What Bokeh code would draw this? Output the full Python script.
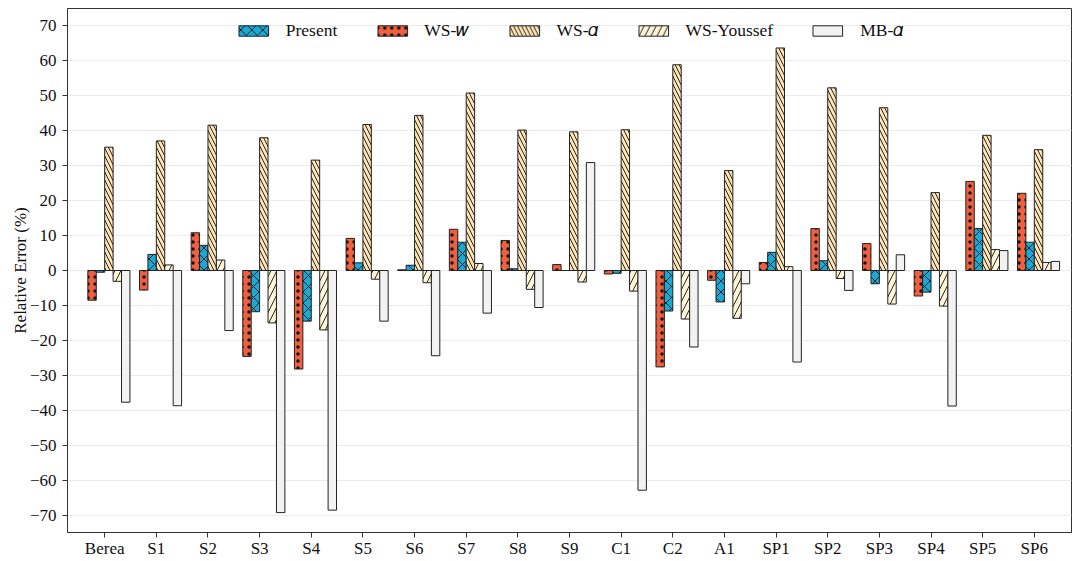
import numpy as np
from bokeh.plotting import figure
from bokeh.models import (ColumnDataSource, FactorRange, FixedTicker, Legend, LegendItem)
from bokeh.transform import dodge
from bokeh.embed import file_html
from bokeh.resources import INLINE

categories = ["Berea", "S1", "S2", "S3", "S4", "S5", "S6", "S7", "S8", "S9",
              "C1", "C2", "A1", "SP1", "SP2", "SP3", "SP4", "SP5", "SP6"]
ws_w      = [-8.5, -5.6, 10.8, -24.6, -28.2, 9.2, 0.2, 11.8, 8.6, 1.7,
             -1.0, -27.6, -2.8, 2.3, 12.0, 7.7, -7.3, 25.5, 22.1]
present   = [-0.5, 4.6, 7.2, -11.8, -14.5, 2.2, 1.5, 8.1, 0.5, 0.0,
             -0.8, -11.6, -9.0, 5.2, 2.8, -3.8, -6.2, 12.0, 8.1]
ws_alpha  = [35.3, 37.1, 41.6, 38.0, 31.6, 41.8, 44.4, 50.8, 40.2, 39.7,
             40.3, 58.9, 28.6, 63.7, 52.3, 46.6, 22.3, 38.7, 34.6]
ws_youssef = [-3.1, 1.6, 3.0, -15.0, -17.0, -2.5, -3.5, 2.0, -5.4, -3.3,
              -5.9, -13.9, -13.7, 1.1, -2.3, -9.6, -10.2, 6.0, 2.3]
mb_alpha  = [-37.7, -38.7, -17.2, -69.3, -68.6, -14.5, -24.4, -12.2, -10.6, 30.9,
             -62.9, -21.9, -3.8, -26.2, -5.7, 4.5, -38.8, 5.7, 2.6]
series_labels = ["Present", "WS-\U0001D464", "WS-\U0001D6FC", "WS-Youssef", "MB-\U0001D6FC"]
y_ticks = list(range(-70, 80, 10))

FONT = "Liberation Serif"
W = 0.163

p = figure(width=1073, height=560,
           x_range=FactorRange(factors=categories, range_padding=0.22,
                               range_padding_units="absolute"),
           y_range=(-75, 75), output_backend="svg", toolbar_location=None,
           min_border_left=67, min_border_right=2, min_border_top=8, min_border_bottom=20)

src = ColumnDataSource(dict(cat=categories, ws_w=ws_w, present=present, ws_alpha=ws_alpha,
                            ws_youssef=ws_youssef, mb_alpha=mb_alpha))

specs = [
    ("ws_w", -1.5, "#F0603F", "dot", 7),
    ("present", -0.5, "#19A9D5", "diagonal_cross", 11),
    ("ws_alpha", 0.5, "#FDE3B5", "left_diagonal_line", 8),
    ("ws_youssef", 1.5, "#FEF5D8", "right_diagonal_line", 12),
    ("mb_alpha", 2.5, "#F2F2F2", None, 8),
]
renderers = {}
for col, off, color, hatch, scale in specs:
    kw = dict(x=dodge("cat", off * W, range=p.x_range), top=col, bottom=0, width=W,
              source=src, fill_color=color, line_color="#222222", line_width=1)
    if hatch:
        kw.update(hatch_pattern=hatch, hatch_color="#111111", hatch_scale=scale,
                  hatch_weight=0.9)
    renderers[col] = p.vbar(**kw)

order = ["present", "ws_w", "ws_alpha", "ws_youssef", "mb_alpha"]
legend = Legend(items=[LegendItem(label=lab, renderers=[renderers[k]])
                       for lab, k in zip(series_labels, order)],
                orientation="horizontal", location="top_center", margin=6, padding=6,
                glyph_width=37, glyph_height=13, label_standoff=14, spacing=36,
                label_text_font=FONT, label_text_font_size="17.5px",
                label_text_color="#111111",
                background_fill_alpha=0, border_line_alpha=0)
p.add_layout(legend)

p.yaxis.ticker = FixedTicker(ticks=y_ticks)
p.yaxis.major_label_overrides = {t: str(t).replace("-", "\u2212") for t in y_ticks}
p.yaxis.axis_label = "Relative Error (%)"
for ax in (p.xaxis[0], p.yaxis[0]):
    ax.major_label_text_font = FONT
    ax.major_label_text_font_size = "17px"
    ax.major_label_text_color = "#111111"
    ax.axis_label_text_font = FONT
    ax.axis_label_text_font_size = "17px"
    ax.axis_label_text_font_style = "normal"
    ax.axis_label_text_color = "#111111"
    ax.axis_line_color = "#333333"
    ax.major_tick_line_color = "#333333"
    ax.major_tick_out = 5
    ax.major_tick_in = 0
    ax.minor_tick_line_color = None
p.xaxis.major_label_standoff = 1
p.yaxis.major_label_standoff = 6
p.yaxis.axis_label_standoff = -3
p.xgrid.grid_line_color = None
p.ygrid.grid_line_color = "#EBEBEB"
p.ygrid.grid_line_width = 1
p.outline_line_color = "#333333"
p.outline_line_width = 1
p.background_fill_color = "white"

open("out.html", "w").write(file_html(p, INLINE))
